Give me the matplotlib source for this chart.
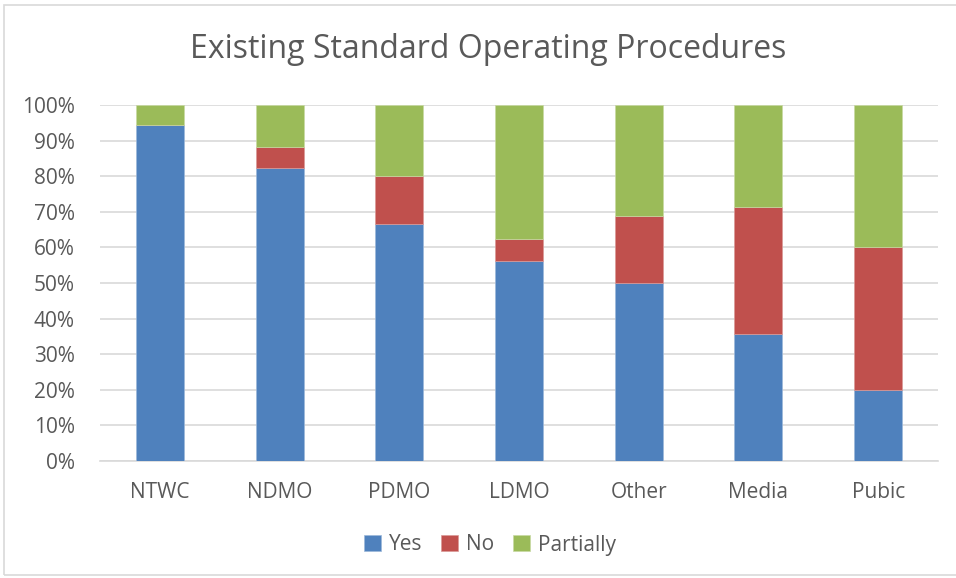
import matplotlib
matplotlib.use("Agg")
import matplotlib.pyplot as plt
from matplotlib.patches import Rectangle
from matplotlib.ticker import FuncFormatter, MultipleLocator
import numpy as np

categories = ["NTWC", "NDMO", "PDMO", "LDMO", "Other", "Media", "Pubic"]
yes = [94.4, 82.4, 66.7, 56.25, 50.0, 35.7, 20.0]
no = [0.0, 5.9, 13.3, 6.25, 18.75, 35.7, 40.0]
partially = [5.6, 11.7, 20.0, 37.5, 31.25, 28.6, 40.0]

plt.rcParams['font.family'] = ['Open Sans', 'DejaVu Sans']
txt = '#595959'

fig = plt.figure(figsize=(9.56, 5.78), dpi=100)
fig.patches.append(Rectangle((4/956, 0.005), 1.0, 1 - 0.005 - 5/578, transform=fig.transFigure,
                             fill=False, edgecolor='#D9D9D9', linewidth=1.2))
ax = fig.add_axes([100/956, 1 - 461/578, 838/956, 356/578])

x = np.arange(len(categories))
w = 0.4
yes_a = np.array(yes); no_a = np.array(no); par_a = np.array(partially)
ax.bar(x, yes_a, w, color='#4F81BD', label='Yes', zorder=3, edgecolor='#9DB8DA', linewidth=0.5)
ax.bar(x, no_a, w, bottom=yes_a, color='#C0504D', label='No', zorder=3, edgecolor='#DA9A98', linewidth=0.5)
ax.bar(x, par_a, w, bottom=yes_a + no_a, color='#9BBB59', label='Partially', zorder=3, edgecolor='#C8DAA3', linewidth=0.5)

ax.set_xlim(-0.5, len(categories) - 0.5)
ax.set_ylim(0, 100)
ax.yaxis.set_major_locator(MultipleLocator(10))
ax.yaxis.set_major_formatter(FuncFormatter(lambda v, p: f"{int(round(v))}%"))
ax.grid(axis='y', color='#D9D9D9', linewidth=1.2, zorder=0)
for s in ['top', 'right', 'left']:
    ax.spines[s].set_visible(False)
ax.spines['bottom'].set_color('#D9D9D9')
ax.spines['bottom'].set_linewidth(1.2)
ax.tick_params(axis='both', length=0, labelsize=15, colors=txt)
ax.tick_params(axis='x', pad=15)
ax.tick_params(axis='y', pad=18)
ax.set_xticks(x)
ax.set_xticklabels(categories)

fig.text(488/956, 1 - 50/578, "Existing Standard Operating Procedures", ha='center', va='center',
         fontsize=23, color=txt)

handles, labels = ax.get_legend_handles_labels()
fig.legend(handles, labels, loc='center', bbox_to_anchor=(490/956, 1 - 545/578), ncol=3,
           frameon=False, fontsize=15, labelcolor=txt, handlelength=0.8, handleheight=0.8,
           handletextpad=0.4, columnspacing=0.9)

fig.savefig("out.png", dpi=100)
